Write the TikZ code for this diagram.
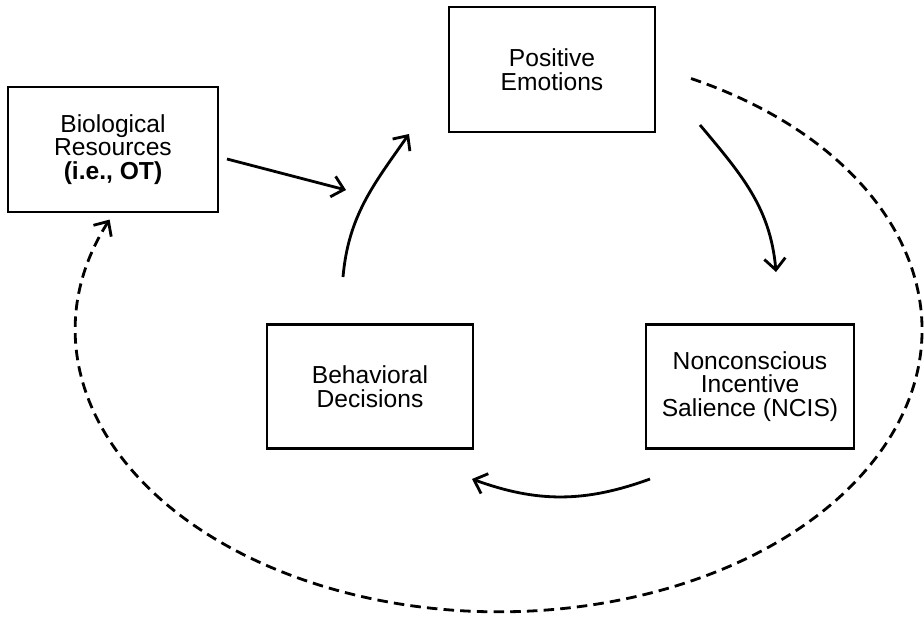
\documentclass[tikz,border=0pt]{standalone}
\usepackage{fontspec}
\setmainfont{Liberation Sans}
\usepackage{tikz}
\usetikzlibrary{positioning,calc,arrows.meta}

\tikzset{
    stage/.style={draw, line width=1.5pt, minimum width=4.14cm, minimum height=2.48cm,
        inner sep=0pt, align=center, font=\fontsize{14}{13.5}\selectfont},
    flow/.style={line width=1.6pt, -{Straight Barb[length=6.5pt,width=12pt]}},
    feedback/.style={flow, dash pattern=on 6pt off 3.5pt}
}

\begin{document}
\begin{tikzpicture}
    \useasboundingbox (0,0) rectangle (18.48,12.4);
    % Stages
    \node [stage, minimum width=4.2cm, minimum height=2.5cm] (bio) at (2.26,9.41) {Biological\\Resources\\\textbf{(i.e., OT)}};
    \node [stage, minimum width=4.12cm, minimum height=2.5cm] (pos) at (11.04,11.01) {Positive\\Emotions};
    \node [stage, minimum width=4.16cm] (ncis) at (15.0,4.67) {Nonconscious\\Incentive\\Salience (NCIS)};
    \node [stage, minimum width=4.12cm] (beh) at (7.4,4.67) {Behavioral\\Decisions};
    % Arrow ends
    \coordinate (bioOut) at (4.54,9.22);  \coordinate (posIn) at (6.92,8.60);
    \coordinate (behOut) at (6.86,6.86);  \coordinate (posTop) at (8.18,9.72);
    \coordinate (posOut) at (14.0,9.9);   \coordinate (ncisIn) at (15.52,6.96);
    \coordinate (ncisOut) at (13.0,2.82); \coordinate (behIn) at (9.44,2.82);
    \coordinate (loopStart) at (13.82,10.83);
    % Cycle
    \draw [flow] (bioOut) -- (posIn);
    \draw [flow] (behOut) to[out=85, in=235] (posTop);
    \draw [flow] (posOut) to[out=-50, in=95] (ncisIn);
    \draw [flow] (ncisOut) to[out=200, in=-20] (behIn);
    % Feedback loop
    \draw [feedback] (loopStart) arc[start angle=63, end angle=-203, x radius=8.46cm, y radius=5.64cm];
\end{tikzpicture}
\end{document}
